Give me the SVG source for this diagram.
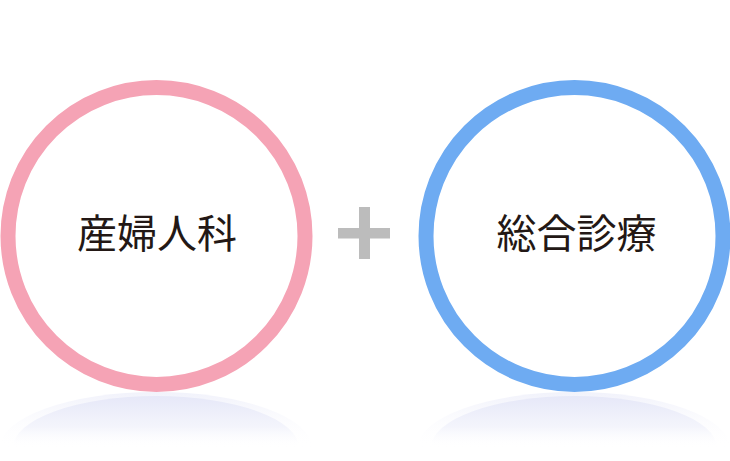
<svg xmlns="http://www.w3.org/2000/svg" width="730" height="461" viewBox="0 0 730 461">
<defs>
<style>
.ring{fill:#ffffff;stroke-width:15}
.label{font-family:"Noto Sans CJK JP","Noto Sans CJK SC",sans-serif;font-size:40px;font-weight:400;fill:#231815;text-anchor:middle}
.plus{fill:#bcbcbc}
</style>
<linearGradient id="shade" x1="0" y1="0" x2="0" y2="1">
<stop offset="0" stop-color="#e6e8f8"/>
<stop offset="0.6" stop-color="#f4f5fc"/>
<stop offset="1" stop-color="#ffffff" stop-opacity="0"/>
</linearGradient>
<linearGradient id="shade2" x1="0" y1="0" x2="0" y2="1">
<stop offset="0" stop-color="#f1f2fb"/>
<stop offset="1" stop-color="#ffffff" stop-opacity="0"/>
</linearGradient>
</defs>
<rect width="730" height="461" fill="#ffffff"/>
<g id="shadow-left">
<path d="M0,448 A156,56 0 0 1 312,448 Z" fill="url(#shade2)"/>
<path d="M13,448 A143,52 0 0 1 299,448 Z" fill="url(#shade)"/>
</g>
<g id="shadow-right">
<path d="M418,448 A156,56 0 0 1 730,448 Z" fill="url(#shade2)"/>
<path d="M431,448 A143,52 0 0 1 717,448 Z" fill="url(#shade)"/>
</g>
<g id="node-obgyn">
<circle class="ring" cx="156.5" cy="236" r="148.5" stroke="#f5a3b5"/>
<text class="label" x="157" y="248">産婦人科</text>
</g>
<g id="plus">
<rect class="plus" x="359" y="207" width="11" height="52"/>
<rect class="plus" x="338" y="228" width="52" height="10.5"/>
</g>
<g id="node-general">
<circle class="ring" cx="574.5" cy="236" r="148.5" stroke="#6eabf2"/>
<text class="label" x="576.5" y="248">総合診療</text>
</g>
<g id="connectors"/>
</svg>
